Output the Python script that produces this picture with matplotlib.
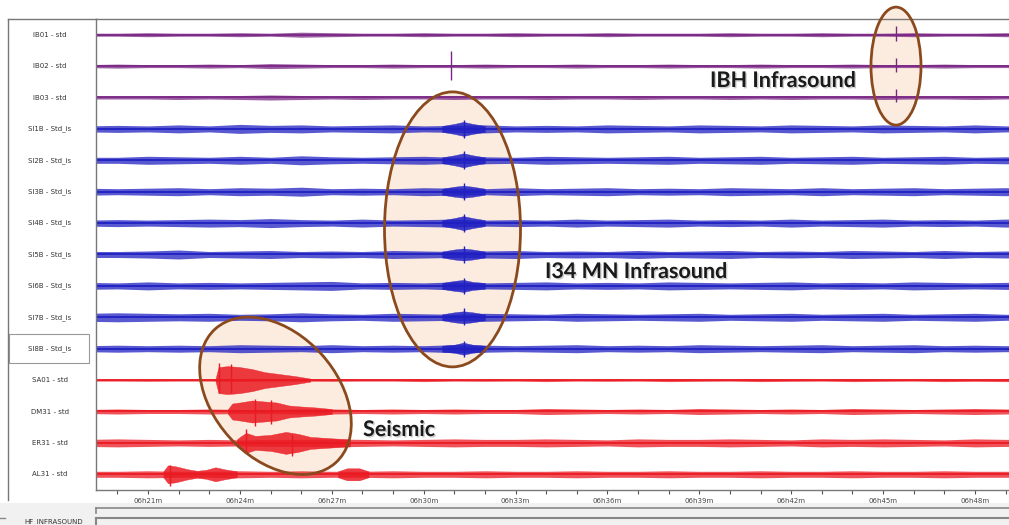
import numpy as np
import matplotlib
matplotlib.use("Agg")
import matplotlib.pyplot as plt
from matplotlib.patches import Ellipse, Rectangle
from matplotlib.transforms import IdentityTransform
from matplotlib.lines import Line2D
import matplotlib.patheffects as pe

# ---------------- data ----------------
channels = ["IB01 - std", "IB02 - std", "IB03 - std",
            "SI1B - Std_is", "SI2B - Std_is", "SI3B - Std_is", "SI4B - Std_is",
            "SI5B - Std_is", "SI6B - Std_is", "SI7B - Std_is", "SI8B - Std_is",
            "SA01 - std", "DM31 - std", "ER31 - std", "AL31 - std"]
groups = ["IB"] * 3 + ["SI"] * 8 + ["SE"] * 4
group_colors = {"IB": "#7a2784", "SI": "#2020c2", "SE": "#ea1a22"}

tick_minutes = [21, 24, 27, 30, 33, 36, 39, 42, 45, 48]
tick_labels = ["06h21m", "06h24m", "06h27m", "06h30m", "06h33m",
               "06h36m", "06h39m", "06h42m", "06h45m", "06h48m"]

# background noise half-amplitude (px) at each minute 19..50
base_minutes = list(range(19, 51))
base_amp = {
    "IB01": [1.5,1.5,2,1.5,1.5,2,1.5,2.5,2,1.5,1.5,2,1.5,1.5,2,1.5,1.5,2,1.5,1.5,1.5,2,1.5,1.5,2,1.5,1.5,2,1.5,1.5,2,1.5],
    "IB02": [1.5,2,1.5,1.5,2,1.5,2.5,2,1.5,1.5,2,1.5,1.5,2,1.5,1.5,2,1.5,1.5,2,1.5,1.5,2,1.5,1.5,2,1.5,1.5,2,1.5,1.5,2],
    "IB03": [1.5,1.5,1.5,2,1.5,2,2.5,2,1.5,2,1.5,1.5,2,1.5,1.5,2,1.5,1.5,2,1.5,1.5,2,1.5,2,1.5,1.5,2,1.5,1.5,2,1.5,1.5],
    "SI1B": [3,3.5,3,4,3,4.5,3.5,4,3,3.5,4,3,3.5,4,3,3.5,3,4,3.5,3,4,3.5,3,4,3.5,3,4,3.5,3,4,3,3.5],
    "SI2B": [3,3,4,3.5,3,4,3,4.5,3.5,3,3.5,4,3,3.5,3,4,3.5,3,3.5,4,3,3.5,4,3,3.5,4,3,3.5,4,3,3.5,3],
    "SI3B": [3.5,3,3.5,4,3,4,3.5,4.5,3,3.5,3,4,3.5,3,4,3,3.5,4,3,3.5,3,4,3.5,3,4,3,3.5,4,3,3.5,4,3],
    "SI4B": [3,3.5,3,3.5,4,3.5,4.5,3.5,3,4,3,3.5,4,3,3.5,3,4,3,3.5,4,3,3.5,3,4,3,3.5,4,3,3.5,3,4,3.5],
    "SI5B": [3,3,3.5,4.5,3,3.5,4,3,3.5,3,4,3.5,3,3.5,4,3,3.5,3,4,3,3.5,4,3,3.5,3,4,3.5,3,4,3,3.5,3],
    "SI6B": [3.5,3,4,3,3.5,3,3.5,4,4.5,3,3.5,3,4,3,3.5,4,3,3.5,3,4,3.5,3,3.5,4,3,3.5,3,4,3.5,3,3.5,4],
    "SI7B": [4,4.5,4,3.5,4,3,3.5,4.5,3.5,3,4,3.5,3,4,3.5,3,4,3.5,3,3.5,4,3,3.5,4,3,3.5,4,3,3.5,4,3,3.5],
    "SI8B": [3,3.5,3,3.5,3,4,3.5,3,4,3,3.5,3,4,3.5,3,3.5,4,3,3.5,3,4,3.5,3,3.5,4,3,3.5,4,3,3.5,3,4],
    "SA01": [1,1,1.2,1,1,1.2,1,1,1.2,1,1,1.5,1,1.2,1,1.5,1,1.2,1,1.5,1.2,1,1.5,1.2,1,1.5,1.2,1,1.5,1.2,1.5,1.2],
    "DM31": [2,2.5,2,2,2.5,2,2,2.5,2.5,2,2.5,2,2.5,2,2,3,2.5,2,2.5,2,3,2.5,2,2.5,2,3,2.5,2,2.5,3,2.5,2],
    "ER31": [3.5,4,3.5,3,3.5,3,3.5,3.5,4,3.5,3,3.5,4,3.5,3.5,4,3.5,3,4,3.5,3.5,4,3.5,3,4,3.5,4,3.5,3,4,3.5,4],
    "AL31": [3,3,3.5,3,3,3.5,3,3.5,3,3,3.5,3,3,3.5,3,3,3.5,3,3,3.5,3,3,3.5,3,3,3.5,3,3,3.5,3,3,3.5],
}

# signal envelopes: (minute, half-amplitude px) knots
events = {
    "SI1B": [[(30.6, 3), (31.0, 5), (31.3, 7), (31.6, 5), (32.0, 3)]],
    "SI2B": [[(30.6, 3), (31.0, 5), (31.3, 7), (31.6, 5), (32.0, 3)]],
    "SI3B": [[(30.6, 3), (31.0, 5), (31.3, 6), (31.6, 5), (32.0, 3)]],
    "SI4B": [[(30.6, 3), (31.0, 5), (31.3, 7), (31.6, 5), (32.0, 3)]],
    "SI5B": [[(30.6, 3), (31.0, 5), (31.3, 6), (31.6, 5), (32.0, 3)]],
    "SI6B": [[(30.6, 3), (31.0, 5), (31.3, 6), (31.6, 4), (32.0, 3)]],
    "SI7B": [[(30.6, 3), (31.0, 5), (31.3, 6), (31.6, 5), (32.0, 3)]],
    "SI8B": [[(30.6, 3), (31.0, 4), (31.3, 6), (31.6, 4), (32.0, 3)]],
    "SA01": [[(23.2, 1), (23.3, 13), (23.6, 14), (24.0, 13), (24.4, 11),
              (24.8, 8), (25.3, 6), (25.8, 4), (26.3, 1.5)]],
    "DM31": [[(23.6, 2), (23.75, 8), (24.0, 9), (24.4, 11), (24.8, 10),
              (25.2, 9), (25.6, 6), (26.0, 5), (26.5, 4), (27.0, 2.5)]],
    "ER31": [[(23.9, 3.5), (24.0, 6), (24.2, 10), (24.5, 7), (25.0, 8),
              (25.5, 11), (25.9, 9), (26.3, 6), (26.8, 5), (27.3, 4), (27.6, 3.5)]],
    "AL31": [[(21.5, 3), (21.65, 9), (21.9, 8), (22.3, 5), (22.6, 3.5),
              (22.9, 4.5), (23.2, 7), (23.5, 5), (23.9, 3)],
             [(27.2, 3), (27.5, 6), (27.9, 6), (28.2, 3)]],
}

# impulsive arrivals: (minute, up px, down px)
spikes = {
    "IB01": [(45.42, 9, 6)],
    "IB02": [(30.9, 15, 14), (45.42, 8, 6)],
    "IB03": [(45.42, 8, 5)],
    "SI1B": [(31.3, 9, 9)], "SI2B": [(31.3, 9, 9)], "SI3B": [(31.3, 9, 8)],
    "SI4B": [(31.3, 9, 9)], "SI5B": [(31.3, 8, 8)], "SI6B": [(31.3, 8, 8)],
    "SI7B": [(31.3, 9, 8)], "SI8B": [(31.3, 8, 8)],
    "SA01": [(23.3, 17, 13), (23.7, 16, 13)],
    "DM31": [(24.5, 13, 15), (25.0, 11, 12)],
    "ER31": [(24.2, 14, 10), (25.7, 9, 13)],
    "AL31": [(21.7, 9, 12)],
}

# ---------------- figure ----------------
W, H = 1009, 525
fig = plt.figure(figsize=(W / 100, H / 100), dpi=100)
fig.patch.set_facecolor("white")

ax_left, ax_top, ax_bottom = 96, 19, 490
ax = fig.add_axes([ax_left / W, 1 - ax_bottom / H, (W - ax_left) / W, (ax_bottom - ax_top) / H])
n = len(channels)
spacing_px = (ax_bottom - ax_top) / n  # px per trace
ax.set_xlim(19.30, 49.11)
ax.set_ylim(n - 0.5, -0.5)

for i, (name, grp) in enumerate(zip(channels, groups)):
    key = name.split(" ")[0]
    col = group_colors[grp]
    b = np.array(base_amp[key]) / spacing_px
    ax.fill_between(base_minutes, i - b, i + b, color=col, lw=0, alpha=0.75, zorder=2)
    ax.plot(base_minutes, [i] * len(base_minutes), color=col, lw=1.3, zorder=2)
    for ev in events.get(key, []):
        et = [p[0] for p in ev]
        ea = np.array([p[1] for p in ev]) / spacing_px
        ax.fill_between(et, i - ea, i + ea, color=col, lw=0.3, ec=col, alpha=0.85, zorder=2)
    for (st, up, dn) in spikes.get(key, []):
        ax.vlines(st, i - up / spacing_px, i + dn / spacing_px, color=col, lw=1.0, zorder=3)

ax.set_yticks([])
ax.set_xticks(tick_minutes)
ax.set_xticklabels(tick_labels, fontsize=5, color="#444444")
ax.set_xticks(list(range(20, 50)), minor=True)
ax.tick_params(axis="x", which="both", length=3, width=0.8, color="#555555", pad=3)
for s in ["left", "top", "bottom"]:
    ax.spines[s].set_color("#777777")
    ax.spines[s].set_linewidth(1.0)
ax.spines["right"].set_visible(False)

# ---------------- annotations (ellipses + labels) ----------------
def ell(t, idx, w, h, ang):
    cx, cy = ax.transData.transform((t, idx))
    fill = Ellipse((cx, cy), w, h, angle=ang, transform=IdentityTransform(),
                   facecolor="#fbe6d6", edgecolor="none", alpha=0.75, zorder=1, clip_on=False)
    edge = Ellipse((cx, cy), w, h, angle=ang, transform=IdentityTransform(),
                   facecolor="none", edgecolor="#8a4a1e", lw=2.0, zorder=5, clip_on=False)
    ax.add_patch(fill)
    ax.add_patch(edge)

ell(45.42, 1.0, 50, 118, 0)
ell(30.94, 6.2, 136, 275, 0)
ell(25.16, 11.5, 180, 124, -48)

def px_text(x, y, s):
    fig.text(x / W, 1 - y / H, s, fontsize=15.5, fontweight="bold", family=["Lato", "DejaVu Sans"],
             color="#1a1a1a", ha="left", va="baseline",
             path_effects=[pe.withSimplePatchShadow(offset=(1, -1), shadow_rgbFace="#999999", alpha=0.5)])

px_text(710, 87, "IBH Infrasound")
px_text(545, 278, "I34 MN Infrasound")
px_text(363, 436, "Seismic")

# ---------------- channel label panel ----------------
for i, name in enumerate(channels):
    y_px = ax_top + (i + 0.5) * spacing_px
    fig.text(50 / W, 1 - y_px / H, name, fontsize=5, color="#333333",
             ha="center", va="center", family=["DejaVu Sans"])

fig.add_artist(Line2D([8 / W, 8 / W], [1 - ax_top / H, 1 - 500 / H], color="#777777", lw=1.0))
fig.add_artist(Line2D([8 / W, ax_left / W], [1 - ax_top / H, 1 - ax_top / H], color="#777777", lw=1.0))
fig.add_artist(Rectangle((9 / W, 1 - 363 / H), 80 / W, 29 / H, transform=fig.transFigure,
                         facecolor="none", edgecolor="#999999", lw=0.8))

# ---------------- bottom strips ----------------
fig.add_artist(Rectangle((0, 0), 1, 22 / H, transform=fig.transFigure,
                         facecolor="#f1f1f1", edgecolor="none", zorder=0))
fig.add_artist(Line2D([ax_left / W, 1], [1 - 508 / H, 1 - 508 / H], color="#888888", lw=1.2))
fig.add_artist(Line2D([ax_left / W, ax_left / W], [1 - 508 / H, 1 - 513 / H], color="#888888", lw=1.2))
fig.add_artist(Line2D([ax_left / W, 1], [1 - 518 / H, 1 - 518 / H], color="#888888", lw=1.5))
fig.add_artist(Line2D([ax_left / W, ax_left / W], [1 - 518 / H, 0], color="#888888", lw=1.5))
fig.add_artist(Line2D([0, 5 / W], [1 - 518 / H, 1 - 518 / H], color="#888888", lw=1.0))
fig.text(54 / W, 1 - 522 / H, "HF_INFRASOUND", fontsize=5, color="#333333",
         ha="center", va="center")

fig.savefig("out.png", dpi=100)
